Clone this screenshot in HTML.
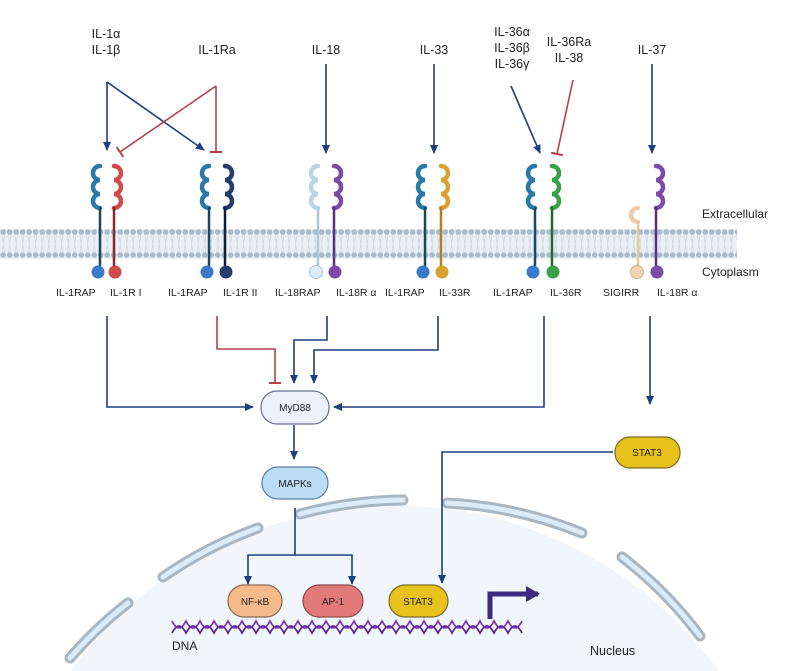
<!DOCTYPE html>
<html><head><meta charset="utf-8"><style>
html,body{margin:0;background:#fff;width:800px;height:671px;overflow:hidden}
svg{display:block}
text{font-family:"Liberation Sans",sans-serif;fill:#222}
</style></head><body>
<svg width="800" height="671" viewBox="0 0 800 671" xmlns="http://www.w3.org/2000/svg">
<defs>
<marker id="ab" markerWidth="10" markerHeight="10" refX="8" refY="5" orient="auto" markerUnits="userSpaceOnUse"><path d="M0,1 L9,5 L0,9 Z" fill="#1f3f7f"/></marker>
<marker id="ap" markerWidth="14" markerHeight="16" refX="12" refY="8" orient="auto" markerUnits="userSpaceOnUse"><path d="M0,0 L14,8 L0,16 Z" fill="#3a2a80"/></marker>
<marker id="tr" markerWidth="4" markerHeight="12" refX="2" refY="6" orient="auto" markerUnits="userSpaceOnUse"><path d="M2,0 L2,12" stroke="#b5404a" stroke-width="2"/></marker>
<pattern id="dots" width="6.5" height="30" patternUnits="userSpaceOnUse" y="229">
<circle cx="3.2" cy="3" r="2.8" fill="#a9bacb"/><circle cx="3.2" cy="26" r="2.8" fill="#a9bacb"/>
<path d="M2,6 L3.2,15 M4.4,6 L3.2,15 M2,23 L3.2,15 M4.4,23 L3.2,15" stroke="#c8d5e2" stroke-width="0.7"/>
</pattern>
</defs>
<path d="M71,671 A400,400 0 0 1 719,671 Z" fill="#f1f6fc"/>
<g fill="none" stroke-linecap="round">
<g stroke="#a8b6c2" stroke-width="11">
<path d="M70,658 A410,410 0 0 1 128,603"/>
<path d="M163,577 A410,410 0 0 1 258,528"/>
<path d="M300,514 A410,410 0 0 1 403,500"/>
<path d="M447,503 A410,410 0 0 1 582,533"/>
<path d="M622,557 A410,410 0 0 1 700,636"/>
</g>
<g stroke="#dcebf8" stroke-width="5">
<path d="M70,658 A410,410 0 0 1 128,603"/>
<path d="M163,577 A410,410 0 0 1 258,528"/>
<path d="M300,514 A410,410 0 0 1 403,500"/>
<path d="M447,503 A410,410 0 0 1 582,533"/>
<path d="M622,557 A410,410 0 0 1 700,636"/>
</g>
</g>
<rect x="0" y="229" width="737" height="30" fill="#eaf0f6"/>
<rect x="0" y="229" width="737" height="30" fill="url(#dots)"/>
<text x="702" y="218" font-size="12">Extracellular</text>
<text x="702" y="276" font-size="12">Cytoplasm</text>
<g font-size="12.5" text-anchor="middle">
<text x="106" y="38">IL-1α</text><text x="106" y="54">IL-1β</text>
<text x="217" y="54">IL-1Ra</text>
<text x="326" y="54">IL-18</text>
<text x="434" y="54">IL-33</text>
<text x="512" y="36">IL-36α</text><text x="512" y="52">IL-36β</text><text x="512" y="68">IL-36γ</text>
<text x="569" y="46">IL-36Ra</text><text x="569" y="62">IL-38</text>
<text x="652" y="54">IL-37</text>
</g>
<g stroke="#1f3f7f" stroke-width="1.6" fill="none" marker-end="url(#ab)">
<path d="M107,82 L107,150"/>
<path d="M107,82 L204,150"/>
<path d="M326,64 L326,153"/>
<path d="M434,64 L434,153"/>
<path d="M511,86 L540,153"/>
<path d="M652,64 L652,153"/>
</g>
<g stroke="#b5404a" stroke-width="1.6" fill="none" marker-end="url(#tr)">
<path d="M216,86 L216,152"/>
<path d="M216,86 L120,152"/>
<path d="M573,80 L557,154"/>
</g>
<g fill="none" stroke-width="4.5" stroke-linecap="round">
<path stroke="#2a7aa8" d="M100,166 A7,7 0 1 0 100,180 A7,7 0 1 0 100,194 A7,7 0 1 0 100,208"/>
<path stroke="#174a5e" stroke-width="2.5" d="M100,208 L100,268"/>
<path stroke="#d24a4a" d="M114,166 A7,7 0 1 1 114,180 A7,7 0 1 1 114,194 A7,7 0 1 1 114,208"/>
<path stroke="#8a2a2a" stroke-width="2.5" d="M114,208 L114,268"/>
<path stroke="#2a7aa8" d="M209,166 A7,7 0 1 0 209,180 A7,7 0 1 0 209,194 A7,7 0 1 0 209,208"/>
<path stroke="#174a5e" stroke-width="2.5" d="M209,208 L209,268"/>
<path stroke="#223d6e" d="M225,166 A7,7 0 1 1 225,180 A7,7 0 1 1 225,194 A7,7 0 1 1 225,208"/>
<path stroke="#111e3a" stroke-width="2.5" d="M225,208 L225,268"/>
<path stroke="#b9d6e6" d="M318,166 A7,7 0 1 0 318,180 A7,7 0 1 0 318,194 A7,7 0 1 0 318,208"/>
<path stroke="#a6ccd6" stroke-width="2.5" d="M318,208 L318,268"/>
<path stroke="#7e4aa8" d="M334,166 A7,7 0 1 1 334,180 A7,7 0 1 1 334,194 A7,7 0 1 1 334,208"/>
<path stroke="#5a2f80" stroke-width="2.5" d="M334,208 L334,268"/>
<path stroke="#2a7aa8" d="M425,166 A7,7 0 1 0 425,180 A7,7 0 1 0 425,194 A7,7 0 1 0 425,208"/>
<path stroke="#174a5e" stroke-width="2.5" d="M425,208 L425,268"/>
<path stroke="#d9a132" d="M441,166 A7,7 0 1 1 441,180 A7,7 0 1 1 441,194 A7,7 0 1 1 441,208"/>
<path stroke="#b08020" stroke-width="2.5" d="M441,208 L441,268"/>
<path stroke="#2a7aa8" d="M535,166 A7,7 0 1 0 535,180 A7,7 0 1 0 535,194 A7,7 0 1 0 535,208"/>
<path stroke="#174a5e" stroke-width="2.5" d="M535,208 L535,268"/>
<path stroke="#3aa04a" d="M552,166 A7,7 0 1 1 552,180 A7,7 0 1 1 552,194 A7,7 0 1 1 552,208"/>
<path stroke="#1f6a2a" stroke-width="2.5" d="M552,208 L552,268"/>
<path stroke="#eacda6" d="M638,208 A7,7 0 1 0 638,222"/>
<path stroke="#e0cc9a" stroke-width="2.5" d="M638,222 L638,268"/>
<path stroke="#7e4aa8" d="M656,166 A7,7 0 1 1 656,180 A7,7 0 1 1 656,194 A7,7 0 1 1 656,208"/>
<path stroke="#5a2f80" stroke-width="2.5" d="M656,208 L656,268"/>
</g>
<g>
<circle cx="98" cy="272" r="6.5" fill="#3a7ac8"/><circle cx="115" cy="272" r="6.5" fill="#d24a4a"/>
<circle cx="207" cy="272" r="6.5" fill="#3a7ac8"/><circle cx="226" cy="272" r="6.5" fill="#223d6e"/>
<circle cx="316" cy="272" r="6.5" fill="#dcebf8" stroke="#a6c6da"/><circle cx="335" cy="272" r="6.5" fill="#7e4aa8"/>
<circle cx="423" cy="272" r="6.5" fill="#3a7ac8"/><circle cx="442" cy="272" r="6.5" fill="#d9a132"/>
<circle cx="533" cy="272" r="6.5" fill="#3a7ac8"/><circle cx="553" cy="272" r="6.5" fill="#3aa04a"/>
<circle cx="637" cy="272" r="6.5" fill="#f0d6b4" stroke="#d4b58e"/><circle cx="657" cy="272" r="6.5" fill="#7e4aa8"/>
</g>
<g font-size="10.5">
<text x="56" y="296">IL-1RAP</text><text x="110" y="296">IL-1R I</text>
<text x="168" y="296">IL-1RAP</text><text x="223" y="296">IL-1R II</text>
<text x="275" y="296">IL-18RAP</text><text x="336" y="296">IL-18R α</text>
<text x="385" y="296">IL-1RAP</text><text x="439" y="296">IL-33R</text>
<text x="493" y="296">IL-1RAP</text><text x="550" y="296">IL-36R</text>
<text x="603" y="296">SIGIRR</text><text x="657" y="296">IL-18R α</text>
</g>
<g stroke="#1f3f7f" stroke-width="1.6" fill="none" marker-end="url(#ab)">
<path d="M107,316 L107,407 L253,407"/>
<path d="M327,316 L327,340 L294,340 L294,383"/>
<path d="M438,316 L438,350 L314,350 L314,383"/>
<path d="M544,316 L544,407 L334,407"/>
<path d="M650,316 L650,404"/>
<path d="M294,425 L294,459"/>
<path d="M295,508 L295,555 L248,555 L248,584"/>
<path d="M295,555 L352,555 L352,584"/>
<path d="M613,452 L442,452 L442,583"/>
</g>
<path d="M217,316 L217,349 L275,349 L275,383" stroke="#b5404a" stroke-width="1.6" fill="none" marker-end="url(#tr)"/>
<g font-size="10" text-anchor="middle" stroke-width="1.2">
<rect x="261" y="391" width="68" height="33" rx="16" fill="#eef1fb" stroke="#6b6f8a"/><text x="295" y="411" stroke="none">MyD88</text>
<rect x="262" y="467" width="66" height="32" rx="16" fill="#bcdcf4" stroke="#5a7ea0"/><text x="295" y="487" stroke="none">MAPKs</text>
<rect x="615" y="437" width="65" height="31" rx="15" fill="#e8c21c" stroke="#7a6a2a"/><text x="647" y="456" stroke="none">STAT3</text>
<rect x="228" y="585" width="54" height="32" rx="16" fill="#f5b98a" stroke="#8a6a5a"/><text x="255" y="605" stroke="none">NF-κB</text>
<rect x="303" y="585" width="60" height="32" rx="16" fill="#e27a7a" stroke="#8a4a4a"/><text x="333" y="605" stroke="none">AP-1</text>
<rect x="389" y="585" width="59" height="32" rx="16" fill="#e8c21c" stroke="#7a6a2a"/><text x="418" y="605" stroke="none">STAT3</text>
</g>
<g fill="none" stroke-width="1.8">
<path stroke="#7a3ab0" d="M172,621 q7,14 14,0 q7,14 14,0 q7,14 14,0 q7,14 14,0 q7,14 14,0 q7,14 14,0 q7,14 14,0 q7,14 14,0 q7,14 14,0 q7,14 14,0 q7,14 14,0 q7,14 14,0 q7,14 14,0 q7,14 14,0 q7,14 14,0 q7,14 14,0 q7,14 14,0 q7,14 14,0 q7,14 14,0 q7,14 14,0 q7,14 14,0 q7,14 14,0 q7,14 14,0 q7,14 14,0 q7,14 14,0"/>
<path stroke="#5a2a90" d="M172,633 q7,-14 14,0 q7,-14 14,0 q7,-14 14,0 q7,-14 14,0 q7,-14 14,0 q7,-14 14,0 q7,-14 14,0 q7,-14 14,0 q7,-14 14,0 q7,-14 14,0 q7,-14 14,0 q7,-14 14,0 q7,-14 14,0 q7,-14 14,0 q7,-14 14,0 q7,-14 14,0 q7,-14 14,0 q7,-14 14,0 q7,-14 14,0 q7,-14 14,0 q7,-14 14,0 q7,-14 14,0 q7,-14 14,0 q7,-14 14,0 q7,-14 14,0"/>
</g>
<path d="M490,619 L490,594 L538,594" stroke="#3a2a80" stroke-width="5" fill="none" marker-end="url(#ap)"/>
<text x="172" y="650" font-size="12">DNA</text>
<text x="590" y="655" font-size="12.5">Nucleus</text>
</svg>
</body></html>
